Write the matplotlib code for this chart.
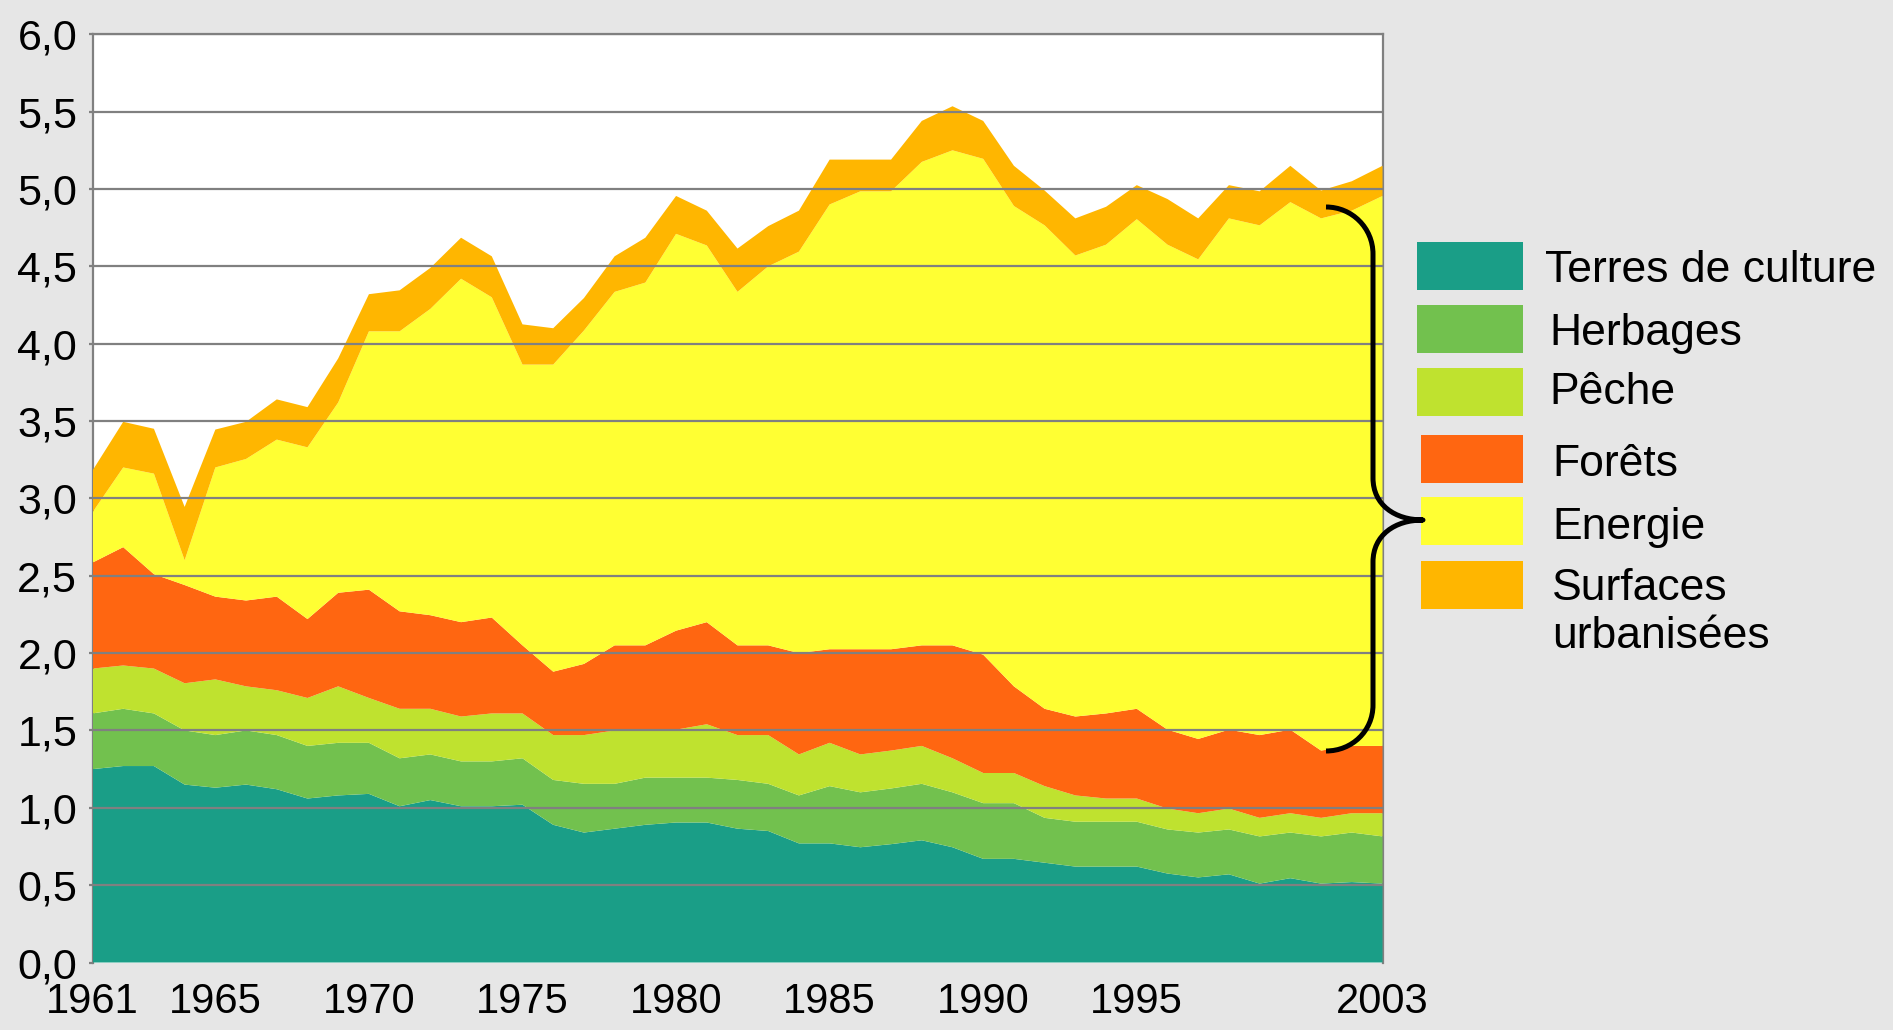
import matplotlib
matplotlib.use('Agg')
import matplotlib.pyplot as plt
from matplotlib.path import Path
from matplotlib.patches import PathPatch, Rectangle
from matplotlib.transforms import Affine2D

plt.rcParams['font.family'] = ['Liberation Sans', 'DejaVu Sans']

# ---------------- data (global hectares per person, by year) ----------------
years = list(range(1961, 2004))

terres = [1.25, 1.27, 1.27, 1.15, 1.13, 1.15, 1.12, 1.06, 1.08, 1.09,
          1.01, 1.05, 1.01, 1.01, 1.02, 0.89, 0.84, 0.865, 0.89, 0.905,
          0.905, 0.865, 0.85, 0.77, 0.77, 0.745, 0.765, 0.79, 0.745, 0.67,
          0.67, 0.645, 0.62, 0.62, 0.62, 0.575, 0.55, 0.57, 0.51, 0.545,
          0.51, 0.52, 0.51]

herbages = [0.36, 0.37, 0.34, 0.35, 0.34, 0.35, 0.35, 0.34, 0.34, 0.33,
            0.31, 0.295, 0.29, 0.29, 0.30, 0.29, 0.315, 0.29, 0.305, 0.29,
            0.29, 0.315, 0.305, 0.31, 0.37, 0.355, 0.36, 0.365, 0.355, 0.36,
            0.36, 0.29, 0.29, 0.29, 0.29, 0.285, 0.29, 0.29, 0.305, 0.295,
            0.305, 0.32, 0.305]

peche = [0.29, 0.28, 0.29, 0.305, 0.36, 0.285, 0.29, 0.31, 0.365, 0.29,
         0.32, 0.295, 0.29, 0.31, 0.29, 0.29, 0.315, 0.345, 0.31, 0.31,
         0.345, 0.29, 0.315, 0.265, 0.28, 0.245, 0.245, 0.245, 0.22, 0.195,
         0.195, 0.205, 0.17, 0.15, 0.15, 0.135, 0.125, 0.135, 0.12, 0.125,
         0.12, 0.125, 0.15]

forets = [0.685, 0.765, 0.61, 0.635, 0.535, 0.555, 0.605, 0.51, 0.605, 0.70,
          0.63, 0.605, 0.61, 0.62, 0.44, 0.41, 0.46, 0.55, 0.545, 0.64,
          0.66, 0.58, 0.58, 0.655, 0.605, 0.68, 0.655, 0.65, 0.73, 0.765,
          0.56, 0.50, 0.51, 0.55, 0.58, 0.51, 0.48, 0.51, 0.535, 0.54,
          0.435, 0.435, 0.435]

energie = [0.325, 0.515, 0.65, 0.16, 0.835, 0.915, 1.015, 1.11, 1.23, 1.67,
           1.81, 1.98, 2.22, 2.07, 1.815, 1.985, 2.155, 2.285, 2.345, 2.565,
           2.435, 2.285, 2.45, 2.595, 2.875, 2.96, 2.96, 3.125, 3.20, 3.205,
           3.105, 3.125, 2.98, 3.03, 3.165, 3.135, 3.10, 3.305, 3.295, 3.41,
           3.44, 3.46, 3.555]

surfaces = [0.27, 0.295, 0.29, 0.345, 0.245, 0.24, 0.26, 0.26, 0.285, 0.24,
            0.265, 0.265, 0.265, 0.265, 0.26, 0.235, 0.21, 0.23, 0.29, 0.245,
            0.225, 0.28, 0.26, 0.265, 0.29, 0.205, 0.205, 0.265, 0.285, 0.245,
            0.26, 0.225, 0.24, 0.245, 0.22, 0.295, 0.265, 0.215, 0.22, 0.235,
            0.18, 0.19, 0.195]

series_names = ['Terres de culture', 'Herbages', 'Pêche', 'Forêts', 'Energie',
                'Surfaces\nurbanisées']
colors = ['#1A9E87', '#72C14E', '#BFE22F', '#FF6611', '#FFFF33', '#FFB600']

xticks = [1961, 1965, 1970, 1975, 1980, 1985, 1990, 1995, 2003]
xticklabels = ['1961', '1965', '1970', '1975', '1980', '1985', '1990', '1995', '2003']
yticks = [0.0, 0.5, 1.0, 1.5, 2.0, 2.5, 3.0, 3.5, 4.0, 4.5, 5.0, 5.5, 6.0]
yticklabels = ['0,0', '0,5', '1,0', '1,5', '2,0', '2,5', '3,0', '3,5', '4,0',
               '4,5', '5,0', '5,5', '6,0']

# ---------------- figure ----------------
W, H = 1893, 1030
BG = '#E6E6E6'
GRID = '#808080'
fig = plt.figure(figsize=(W / 100, H / 100), dpi=100, facecolor=BG)
L, R, T, B = 92.5, 1382.5, 34.3, 962.5
ax = fig.add_axes([L / W, 1 - B / H, (R - L) / W, (B - T) / H])
ax.set_facecolor('white')

ax.stackplot(years, terres, herbages, peche, forets, energie, surfaces,
             colors=colors, linewidth=0, zorder=1)

for v in yticks[1:]:
    ax.axhline(v, color=GRID, lw=1.6, zorder=3)

ax.set_xlim(1961, 2003)
ax.set_ylim(0, 6)
ax.set_xticks(xticks)
ax.set_xticklabels(xticklabels)
ax.set_yticks(yticks)
ax.set_yticklabels(yticklabels)
ax.tick_params(axis='y', length=3, width=1.6, color=GRID, pad=8, labelsize=31)
ax.tick_params(axis='x', length=0, pad=14, labelsize=30)

for s in ['left', 'right', 'top']:
    ax.spines[s].set_color(GRID)
    ax.spines[s].set_linewidth(1.6)
    ax.spines[s].set_zorder(0.5)
ax.spines['bottom'].set_visible(False)

# pixel transform (x from left, y from top)
px = Affine2D().scale(1 / W, -1 / H).translate(0, 1) + fig.transFigure

# ---------------- legend ----------------
boxes = [(1417, 242, 106, 48), (1417, 305, 106, 48), (1417, 368, 106, 48),
         (1421, 435, 102, 48), (1421, 497, 102, 48), (1421, 561, 102, 48)]
# baseline of the last line of each label
text_pos = [(1545, 281.5), (1549, 344.5), (1549, 404.5),
            (1552, 475.5), (1552, 538.5), (1552, 648.5)]
for (x, y, w, h), (tx, ty), name, c in zip(boxes, text_pos, series_names, colors):
    fig.add_artist(Rectangle((x, y), w, h, transform=px, facecolor=c,
                             edgecolor='none'))
    fig.text(tx, ty, name, transform=px, fontsize=32, ha='left',
             va='baseline', color='black', linespacing=1.25)

# ---------------- brace ----------------
verts = [(1326, 207), (1352, 207), (1373, 228), (1373, 254),
         (1373, 478),
         (1373, 505), (1395, 520), (1423, 520),
         (1395, 520), (1373, 535), (1373, 562),
         (1373, 705),
         (1373, 731), (1352, 751), (1326, 751)]
codes = [Path.MOVETO, Path.CURVE4, Path.CURVE4, Path.CURVE4,
         Path.LINETO,
         Path.CURVE4, Path.CURVE4, Path.CURVE4,
         Path.CURVE4, Path.CURVE4, Path.CURVE4,
         Path.LINETO,
         Path.CURVE4, Path.CURVE4, Path.CURVE4]
fig.add_artist(PathPatch(Path(verts, codes), transform=px, facecolor='none',
                         edgecolor='black', lw=3.6, capstyle='butt',
                         joinstyle='round'))

fig.savefig('out.png', dpi=100, facecolor=BG)
